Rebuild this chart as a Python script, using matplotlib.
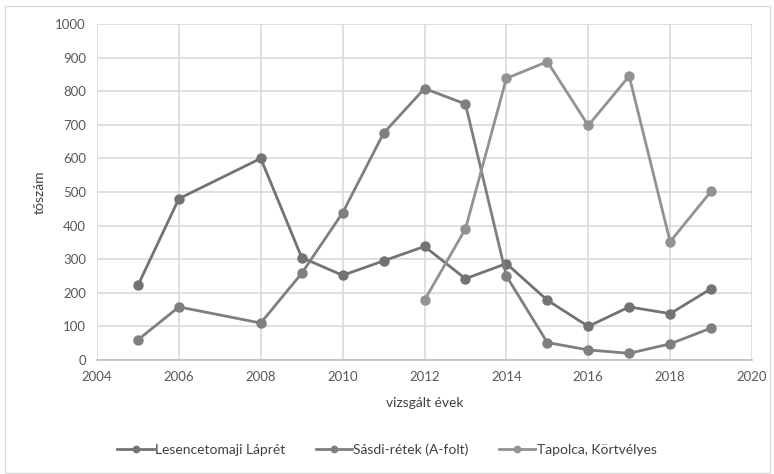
import matplotlib.pyplot as plt
from matplotlib.patches import Rectangle

# Data
years_lesence = [2005, 2006, 2008, 2009, 2010, 2011, 2012, 2013, 2014, 2015, 2016, 2017, 2018, 2019]
lesence = [222, 480, 600, 305, 252, 295, 338, 242, 287, 178, 100, 158, 138, 212]

years_sasdi = [2005, 2006, 2008, 2009, 2010, 2011, 2012, 2013, 2014, 2015, 2016, 2017, 2018, 2019]
sasdi = [60, 158, 110, 258, 438, 675, 808, 762, 250, 52, 30, 20, 48, 95]

years_tapolca = [2012, 2013, 2014, 2015, 2016, 2017, 2018, 2019]
tapolca = [178, 390, 838, 888, 698, 845, 352, 502]

labels = ['Lesencetomaji Láprét', 'Sásdi-rétek (A-folt)', 'Tapolca, Körtvélyes']
colors = ['#737373', '#7f7f7f', '#929292']

plt.rcParams['font.family'] = ['Lato', 'DejaVu Sans']

fig = plt.figure(figsize=(7.74, 4.74), dpi=100)
fig.patches.append(Rectangle((5 / 774, 1 - 473 / 474), 765 / 774, 467 / 474,
                             transform=fig.transFigure, fill=False,
                             edgecolor='#d9d9d9', linewidth=1))
ax = fig.add_axes([97 / 774, 1 - 360 / 474, 655 / 774, 336 / 474])

series = [(years_lesence, lesence), (years_sasdi, sasdi), (years_tapolca, tapolca)]
for (x, y), lab, c in zip(series, labels, colors):
    ax.plot(x, y, color=c, linewidth=2.0, marker='o', markersize=6.5, label=lab, zorder=3)

ax.set_xlim(2004, 2020)
ax.set_ylim(0, 1000)
ax.set_xticks(range(2004, 2021, 2))
ax.set_yticks(range(0, 1001, 100))
ax.grid(True, color='#d9d9d9', linewidth=1.2, zorder=0)
ax.set_axisbelow(True)
for s in ['top', 'right', 'left']:
    ax.spines[s].set_visible(False)
ax.spines['bottom'].set_color('#bfbfbf')
ax.spines['bottom'].set_linewidth(1.2)
ax.tick_params(length=0, labelsize=9.5, colors='#595959', pad=8)

ax.set_xlabel('vizsgált évek', fontsize=10, color='#404040', labelpad=10)
ax.set_ylabel('tőszám', fontsize=10, color='#404040', labelpad=7)

fig.legend(loc='center', bbox_to_anchor=(0.5, 1 - 450 / 474), ncol=3, frameon=False,
           fontsize=10, labelcolor='#404040', handlelength=2.6, handletextpad=0.1,
           columnspacing=2.2, markerscale=0.7)

fig.savefig('out.png', dpi=100)
